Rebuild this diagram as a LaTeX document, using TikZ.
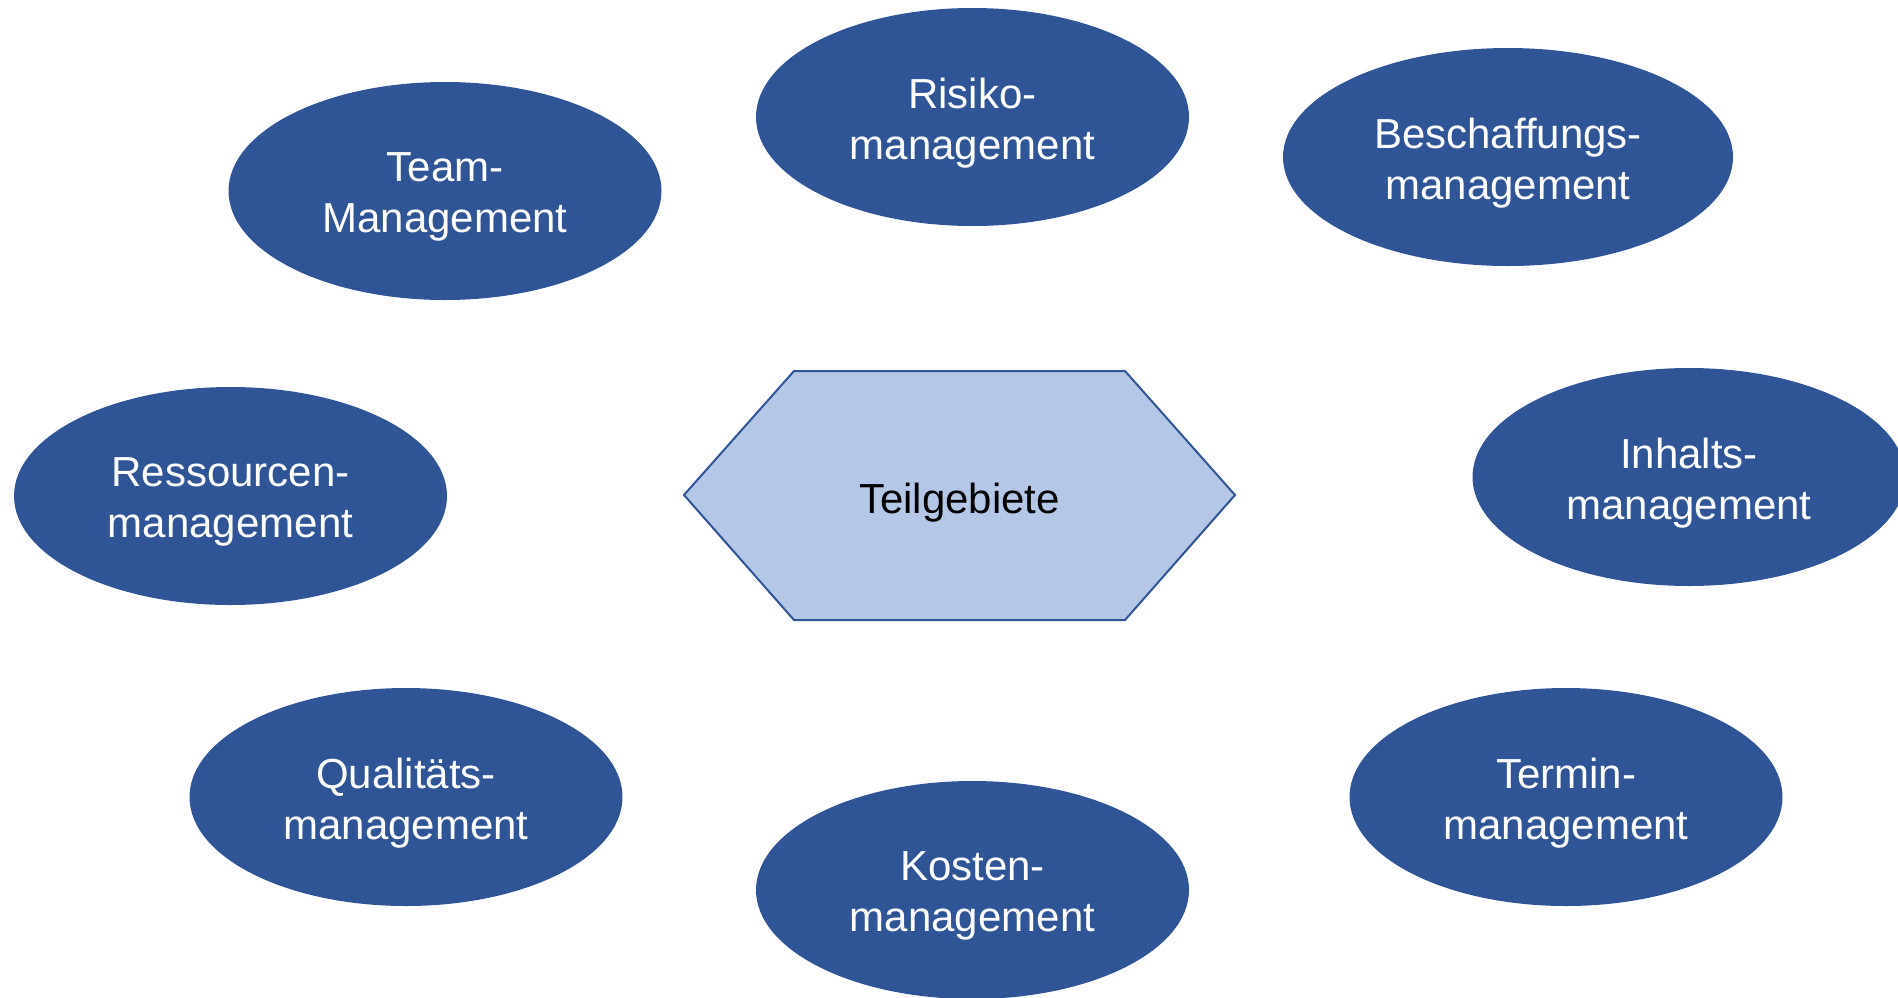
\documentclass[tikz,border=0pt]{standalone}
\usepackage{fontspec}
\setmainfont{Liberation Sans}
\usetikzlibrary{shapes.geometric}
\definecolor{darkblue}{RGB}{47,85,151}
\definecolor{lightblue}{RGB}{180,199,231}
\tikzset{
  area/.style={ellipse, fill=darkblue, draw=none,
    minimum width=433pt, minimum height=218pt, inner sep=0pt},
  areatext/.style={text=white, align=center, inner sep=0pt,
    font=\fontsize{42}{51}\selectfont},
  hexlabel/.style={text=black, font=\fontsize{42}{51}\selectfont}
}
\begin{document}
\begin{tikzpicture}[x=1pt,y=-1pt]
\useasboundingbox (0,0) rectangle (1898,997);
% hexagon
\coordinate (h1) at (684,495);
\coordinate (h2) at (794,371);
\coordinate (h3) at (1125,371);
\coordinate (h4) at (1235,495);
\coordinate (h5) at (1125,620);
\coordinate (h6) at (794,620);
\draw[fill=lightblue, draw=darkblue, line width=2pt, line join=miter]
  (h1) -- (h2) -- (h3) -- (h4) -- (h5) -- (h6) -- cycle;
\node[hexlabel] (center) at (959.5,503) {Teilgebiete};
% ellipses
\node[area] (team) at (445,191) {};
\node[area] (risiko) at (972.5,117) {};
\node[area, minimum width=450pt] (beschaffung) at (1508,157) {};
\node[area] (ressourcen) at (230.5,496) {};
\node[area] (inhalt) at (1689,477) {};
\node[area] (qualitaet) at (406,797) {};
\node[area] (kosten) at (972.5,890) {};
\node[area] (termin) at (1566,797) {};
% texts
\node[areatext] (teamT) at ([yshift=-6pt]team.center) {Team-\\Management};
\node[areatext] (risikoT) at ([yshift=-6pt]risiko.center) {Risiko-\\management};
\node[areatext] (beschaffungT) at ([yshift=-6pt]beschaffung.center) {Beschaffungs-\\management};
\node[areatext] (ressourcenT) at ([yshift=-6pt]ressourcen.center) {Ressourcen-\\management};
\node[areatext] (inhaltT) at ([yshift=-6pt]inhalt.center) {Inhalts-\\management};
\node[areatext] (qualitaetT) at ([yshift=-6pt]qualitaet.center) {Qualitäts-\\management};
\node[areatext] (kostenT) at ([yshift=-6pt]kosten.center) {Kosten-\\management};
\node[areatext] (terminT) at ([yshift=-6pt]termin.center) {Termin-\\management};
\end{tikzpicture}
\end{document}
